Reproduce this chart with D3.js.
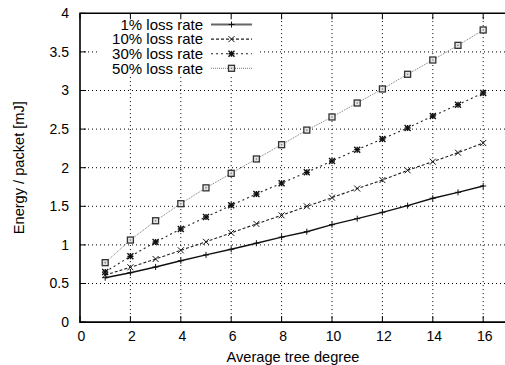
<!DOCTYPE html>
<html>
<head>
<meta charset="utf-8">
<script src="https://cdn.jsdelivr.net/npm/d3@7"></script>
<style>
    body { margin: 0; background: #fff; }
    svg { display: block; font-family: "Liberation Sans", Arial, sans-serif; }
</style>
</head>
<body>
<svg id="chart" width="505" height="365"></svg>
<script>
// Data
const treeDegree = [1, 2, 3, 4, 5, 6, 7, 8, 9, 10, 11, 12, 13, 14, 15, 16];
const loss1 = [0.575, 0.64, 0.714, 0.795, 0.87, 0.943, 1.022, 1.10, 1.171, 1.262, 1.34, 1.422, 1.508, 1.604, 1.681, 1.763];
const loss10 = [0.61, 0.71, 0.817, 0.93, 1.04, 1.156, 1.272, 1.383, 1.50, 1.612, 1.73, 1.84, 1.966, 2.078, 2.194, 2.32];
const loss30 = [0.65, 0.852, 1.037, 1.206, 1.361, 1.513, 1.66, 1.80, 1.94, 2.087, 2.234, 2.372, 2.514, 2.67, 2.816, 2.968];
const loss50 = [0.77, 1.063, 1.313, 1.534, 1.739, 1.927, 2.113, 2.298, 2.487, 2.657, 2.838, 3.02, 3.21, 3.395, 3.585, 3.784];
const seriesLabels = ["1% loss rate", "10% loss rate", "30% loss rate", "50% loss rate"];
const xTicks = [0, 2, 4, 6, 8, 10, 12, 14, 16];
const yTicks = [0, 0.5, 1, 1.5, 2, 2.5, 3, 3.5, 4];

// Line style per series (gnuplot-like)
const seriesStyles = [
    { values: loss1, stroke: "#111", width: 1.4, dash: null, marker: "plus", sampleStroke: "#666", sampleWidth: 2 },
    { values: loss10, stroke: "#222", width: 1.1, dash: "3,2", marker: "cross" },
    { values: loss30, stroke: "#222", width: 1.1, dash: "2,3", marker: "star" },
    { values: loss50, stroke: "#777", width: 1, dash: "1,1", marker: "box" }
];

const svg = d3.select("#chart");

// Plot area (x axis runs on past the right edge of the picture)
const plotLeft = 80, plotTop = 13.3, plotBottom = 322.1;
const x = d3.scaleLinear().domain([0, 18]).range([plotLeft, plotLeft + 18 * 25.2]);
const y = d3.scaleLinear().domain([0, 4]).range([plotBottom, plotTop]);
const plotRight = x(18);

// Dotted grid
const grid = svg.append("g").attr("stroke", "#000").attr("stroke-width", 1).attr("stroke-dasharray", "1,3");
grid.selectAll(".gx").data(xTicks.filter(d => d > 0)).join("line")
    .attr("class", "gx")
    .attr("x1", d => x(d)).attr("x2", d => x(d))
    .attr("y1", plotBottom).attr("y2", plotTop);
grid.selectAll(".gy").data(yTicks.filter(d => d > 0 && d < 4)).join("line")
    .attr("class", "gy")
    .attr("x1", plotLeft).attr("x2", plotRight)
    .attr("y1", d => y(d)).attr("y2", d => y(d));

// Point markers: plus, cross, star (plus + cross) and open box
function drawMarker(g, type, cx, cy, color) {
    const s = 3;
    if (type === "plus" || type === "star") {
        g.append("path").attr("d", `M${cx - s},${cy}H${cx + s}M${cx},${cy - s}V${cy + s}`)
            .attr("stroke", color).attr("stroke-width", type === "star" ? 1.4 : 1);
    }
    if (type === "cross" || type === "star") {
        g.append("path").attr("d", `M${cx - s},${cy - s}L${cx + s},${cy + s}M${cx - s},${cy + s}L${cx + s},${cy - s}`)
            .attr("stroke", color).attr("stroke-width", type === "star" ? 1.4 : 1);
    }
    if (type === "box") {
        g.append("rect").attr("x", cx - 3).attr("y", cy - 3).attr("width", 6).attr("height", 6)
            .attr("fill", "#e4e4e4").attr("stroke", "#333").attr("stroke-width", 1.3);
        g.append("circle").attr("cx", cx).attr("cy", cy).attr("r", 0.8).attr("fill", "#777");
    }
}

const line = d3.line().x((d, i) => x(treeDegree[i])).y(d => y(d));

seriesStyles.forEach(s => {
    svg.append("path")
        .datum(s.values)
        .attr("d", line)
        .attr("fill", "none")
        .attr("stroke", s.stroke)
        .attr("stroke-width", s.width)
        .attr("stroke-dasharray", s.dash);
    const mg = svg.append("g");
    s.values.forEach((v, i) => drawMarker(mg, s.marker, x(treeDegree[i]), y(v), "#111"));
});

// Legend with white background
const legendX = 203, legendY0 = 24.5, legendStep = 14.6;
svg.append("rect")
    .attr("x", 100).attr("y", 16)
    .attr("width", 158).attr("height", 60)
    .attr("fill", "#fff");

seriesStyles.forEach((s, i) => {
    const ly = legendY0 + i * legendStep;
    svg.append("text")
        .attr("x", legendX).attr("y", ly)
        .attr("dy", "0.35em")
        .attr("text-anchor", "end")
        .attr("font-size", 15)
        .attr("fill", "#000")
        .text(seriesLabels[i]);
    svg.append("line")
        .attr("x1", 211).attr("x2", 252)
        .attr("y1", ly).attr("y2", ly)
        .attr("stroke", s.sampleStroke || s.stroke)
        .attr("stroke-width", s.sampleWidth || s.width)
        .attr("stroke-dasharray", s.dash);
    drawMarker(svg, s.marker, 231.5, ly, "#111");
});

// Axes: inward ticks, mirrored on top
const ticks = svg.append("g").attr("stroke", "#000").attr("stroke-width", 1);
xTicks.forEach(t => {
    ticks.append("line").attr("x1", x(t)).attr("x2", x(t)).attr("y1", plotBottom).attr("y2", plotBottom - 6);
    ticks.append("line").attr("x1", x(t)).attr("x2", x(t)).attr("y1", plotTop).attr("y2", plotTop + 6);
});
yTicks.forEach(t => {
    ticks.append("line").attr("x1", plotLeft).attr("x2", plotLeft + 6).attr("y1", y(t)).attr("y2", y(t));
});

// Border
svg.append("path")
    .attr("d", `M${plotRight},${plotTop}H${plotLeft}V${plotBottom}H${plotRight}`)
    .attr("fill", "none")
    .attr("stroke", "#000")
    .attr("stroke-width", 1.6);

// Tick labels
svg.append("g").selectAll("text").data(xTicks).join("text")
    .attr("x", d => x(d) + 1.5).attr("y", 336)
    .attr("dy", "0.35em")
    .attr("text-anchor", "middle")
    .attr("font-size", 14)
    .text(d => d);

svg.append("g").selectAll("text").data(yTicks).join("text")
    .attr("x", 69).attr("y", d => y(d))
    .attr("dy", "0.35em")
    .attr("text-anchor", "end")
    .attr("font-size", 14)
    .text(d => d);

// Axis titles
svg.append("text")
    .attr("x", 293).attr("y", 357)
    .attr("dy", "0.35em")
    .attr("text-anchor", "middle")
    .attr("font-size", 14.6)
    .text("Average tree degree");

svg.append("text")
    .attr("transform", `translate(19, ${(plotTop + plotBottom) / 2}) rotate(-90)`)
    .attr("dy", "0.35em")
    .attr("text-anchor", "middle")
    .attr("font-size", 14.6)
    .text("Energy / packet [mJ]");
</script>
</body>
</html>
